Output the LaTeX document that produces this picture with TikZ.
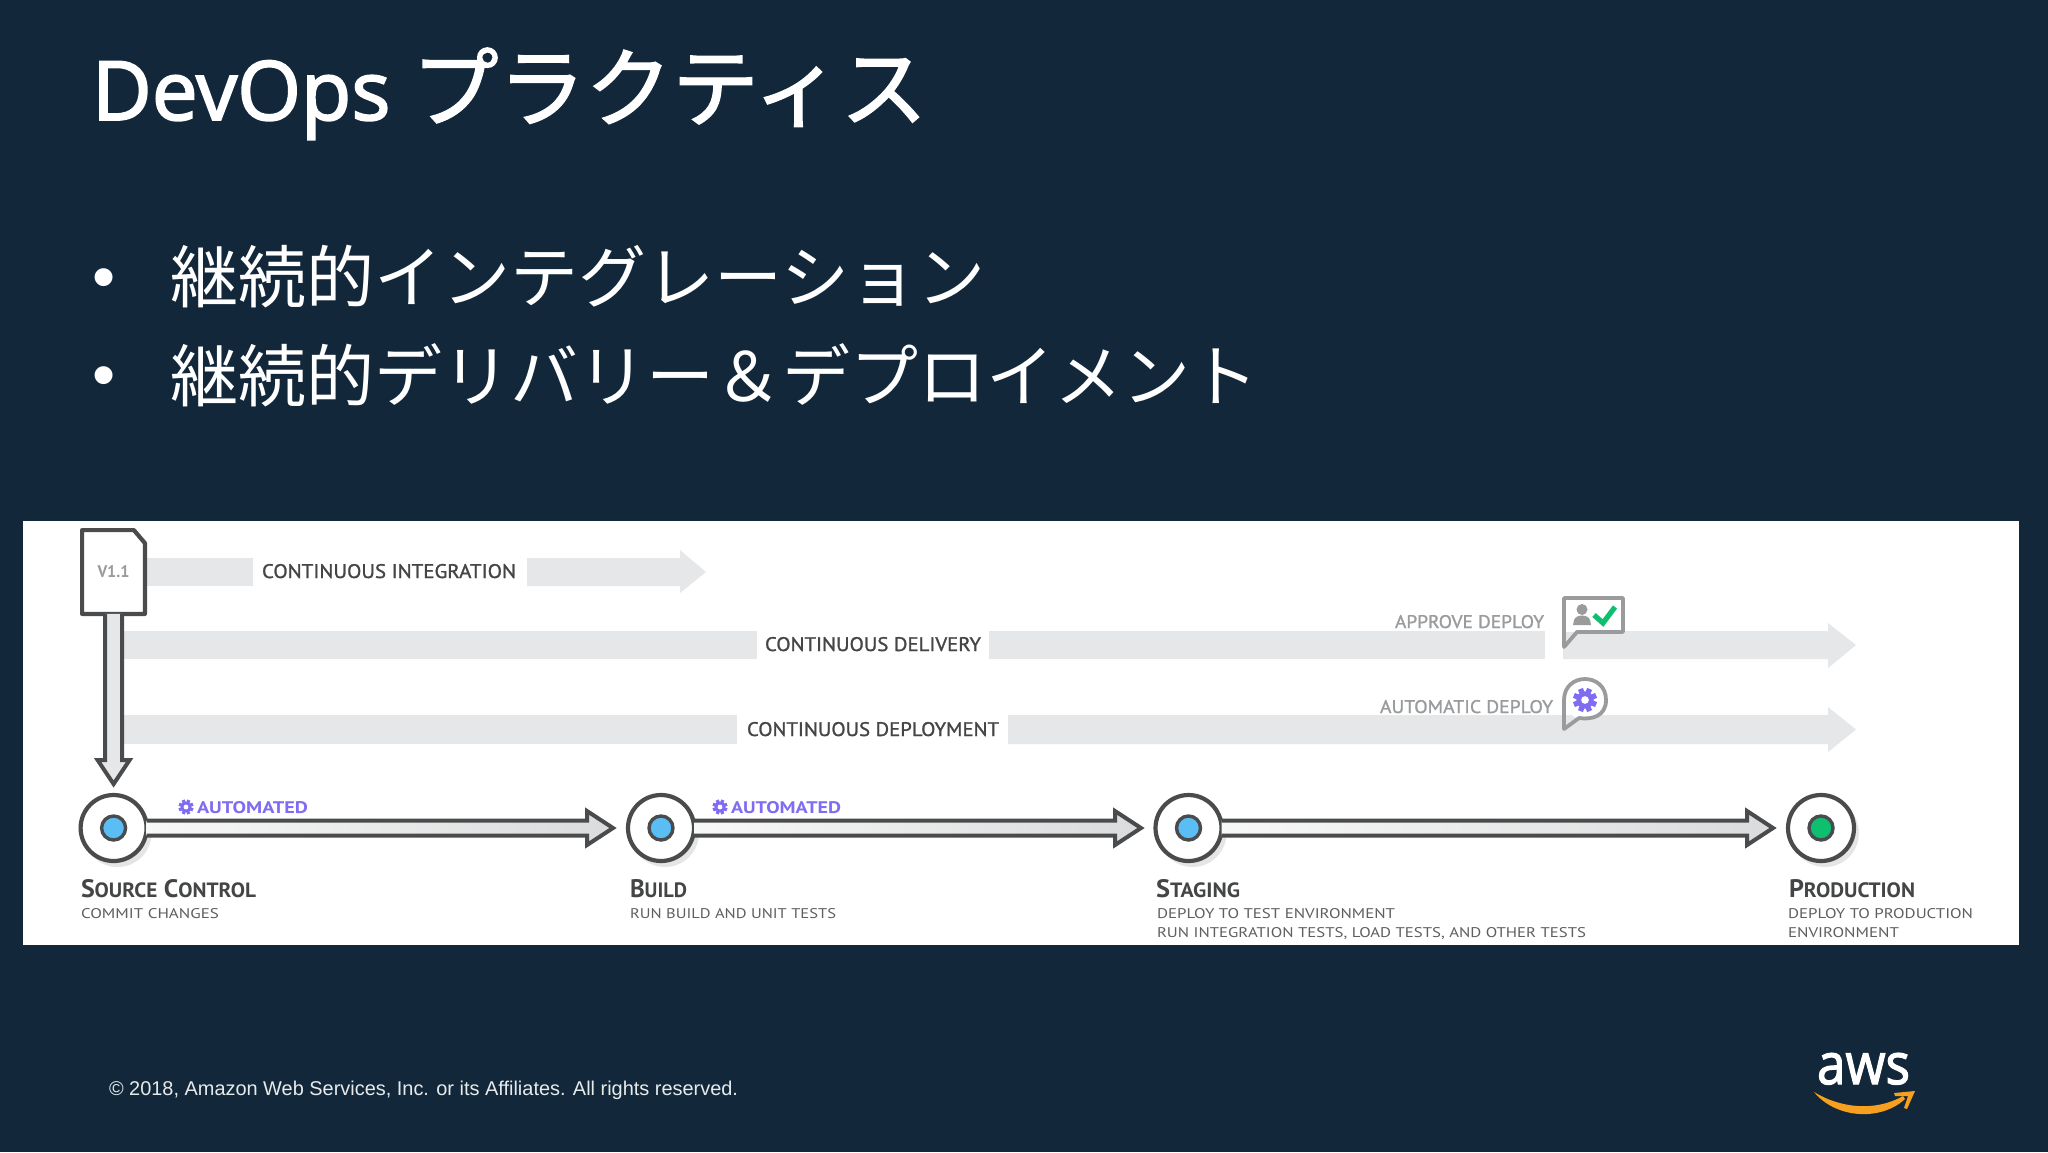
\documentclass[tikz,border=0pt]{standalone}
\usepackage{graphicx}
\usepackage{fontspec}
\setmainfont{PT Sans}
\newfontfamily\medf[FakeBold=1.2]{PT Sans}
\newfontfamily\cjkf{Noto Sans CJK JP}
\newfontfamily\cjkb[FakeBold=1.6]{Noto Sans CJK JP}
\newfontfamily\titlef[FakeBold=2.2]{Open Sans}
\newfontfamily\footf{Liberation Sans}
\usetikzlibrary{calc}
\definecolor{bgc}{HTML}{12283A}
\definecolor{barc}{HTML}{E6E7E8}
\definecolor{inkc}{HTML}{4A4B4C}
\definecolor{txtc}{HTML}{444546}
\definecolor{subc}{HTML}{5E5F60}
\definecolor{grayc}{HTML}{9A9B9C}
\definecolor{purc}{HTML}{7F6CF2}
\definecolor{bluec}{HTML}{5ABEF5}
\definecolor{greenc}{HTML}{0FBF70}
\definecolor{orc}{HTML}{F79F1E}
\newdimen\pxu \pxu=0.5pt
\newcommand\fitbox[3]{\resizebox{#1\pxu}{#2\pxu}{#3}}
\newcommand\smc[1]{{\fontsize{8.2}{8.2}\selectfont #1}}
\tikzset{
  x=0.5pt,y=-0.5pt,
  lbl/.style={inner sep=0pt,outer sep=0pt,anchor=base west},
  stagecirc/.style={circle,draw=inkc,fill=white,line width=2.1pt,minimum size=66\pxu,inner sep=0pt,outer sep=0pt},
  stagecore/.style={circle,draw=inkc,line width=1.7pt,minimum size=24\pxu,inner sep=0pt},
  blockarrow/.style={draw=inkc,line width=2pt,line join=miter,left color=white!70!barc,right color=barc!95!black},
  gearpic/.pic={
    \fill[purc] (0,0) circle[radius=#1*0.72];
    \foreach \a in {0,45,...,315}{\draw[purc,line width=#1*0.22] (0,0) -- (\a+22.5:#1);}
    \fill[white] (0,0) circle[radius=#1*0.32];
  },
  bubble/.style={draw=grayc,line width=1.9pt,line join=round}
}
\newcommand\harrow[2]{%
  \draw[blockarrow] ($(#1.east)+(0,-7.5)$) -- ($(#2)+(-26,-7.5)$) -- ($(#2)+(-26,-17)$) -- (#2) -- ($(#2)+(-26,17)$) -- ($(#2)+(-26,7.5)$) -- ($(#1.east)+(0,7.5)$);}
\begin{document}
\begin{tikzpicture}
\useasboundingbox (0,0) rectangle (2048,1152);
\fill[bgc] (0,0) rectangle (2048,1152);
% heading and bullets
\node[lbl,text=white] (title) at (92,120) {\titlef\fontsize{41}{41}\selectfont DevOps \cjkb\fontsize{43.4}{44}\selectfont プラクティス};
\node[inner sep=0pt,text=white] (b1) at (104.5,284) {\footf\fontsize{33}{33}\selectfont •};
\node[inner sep=0pt,text=white] (b2) at (104.5,382) {\footf\fontsize{33}{33}\selectfont •};
\node[inner sep=0pt,anchor=west,text=white] (t1) at (170,277) {\cjkf\fontsize{34}{34}\selectfont 継続的インテグレーション};
\node[inner sep=0pt,anchor=west,text=white] (t2) at (170,375) {\cjkf\fontsize{34}{34}\selectfont 継続的デリバリー＆デプロイメント};
% panel
\fill[white] (23,521) rectangle (2019,945);
% grey lanes
\fill[barc] (145,558) rectangle (253,586);
\fill[barc] (527,558) -- (680,558) -- (680,550) -- (706,572) -- (680,593) -- (680,586) -- (527,586) -- cycle;
\fill[barc] (123,631) rectangle (757,659);
\fill[barc] (989,631) rectangle (1545,659);
\fill[barc] (1563,631) -- (1828,631) -- (1828,623) -- (1856,645) -- (1828,668) -- (1828,659) -- (1563,659) -- cycle;
\fill[barc] (123,715) rectangle (737,744);
\fill[barc] (1008,715) -- (1828,715) -- (1828,707) -- (1856,729.5) -- (1828,752) -- (1828,744) -- (1008,744) -- cycle;
\node[lbl,text=txtc] (ci) at (262,578) {\medf\fitbox{254}{14}{CONTINUOUS INTEGRATION}};
\node[lbl,text=txtc] (cd) at (765,651) {\medf\fitbox{216}{14}{CONTINUOUS DELIVERY}};
\node[lbl,text=txtc] (cdp) at (747,736) {\medf\fitbox{252}{14}{CONTINUOUS DEPLOYMENT}};
\node[lbl,text=grayc] (appr) at (1395,628) {\medf\fitbox{149}{13}{APPROVE DEPLOY}};
\node[lbl,text=grayc] (auto) at (1380,713) {\medf\fitbox{173}{13}{AUTOMATIC DEPLOY}};
% approve bubble
\fill[white] (1563,598) rectangle (1623,632);
\draw[bubble] (1577,632) -- (1623,632) -- (1623,598) -- (1564,598) -- (1564,647) -- cycle;
\fill[grayc] (1582,609.5) circle[radius=5.5];
\fill[grayc] (1573,625) -- (1574,620) .. controls (1576,614) and (1588,614) .. (1590,620) -- (1591,625) -- cycle;
\draw[greenc,line width=2.6pt] (1594,615) -- (1603,623) -- (1615,607);
% automatic bubble
\fill[white] (1585,700) circle[radius=20];
\draw[bubble] (1564,729) -- (1564,700) .. controls (1564,672) and (1606,672) .. (1606,700) .. controls (1606,716) and (1592,720) .. (1579,718) -- cycle;
\pic at (1585,700) {gearpic=12};
% source file
\node[inner sep=0pt,minimum width=62\pxu,minimum height=83\pxu] (file) at (113.5,572) {\textcolor{grayc}{\textbf{\fitbox{32}{12}{V1.1}}}};
\draw[inkc,line width=2.1pt,line join=round] (file.north west) -- ($(file.north east)+(-11,0)$) -- ($(file.north east)+(0,13)$) -- (file.south east) -- (file.south west) -- cycle;
% shadows
\foreach \cx in {113.6,661,1188.5,1821}{\fill[black!10] (\cx+4,828+5) circle[radius=34];}
% stages
\node[stagecirc] (src) at (113.6,828) {};
\node[stagecirc] (bld) at (661,828) {};
\node[stagecirc] (stg) at (1188.5,828) {};
\node[stagecirc] (prd) at (1821,828) {};
\node[stagecore,fill=bluec] (c1) at (src) {};
\node[stagecore,fill=bluec] (c2) at (bld) {};
\node[stagecore,fill=bluec] (c3) at (stg) {};
\node[stagecore,fill=greenc] (c4) at (prd) {};
% connectors
\coordinate (v) at (113.6,784);
\draw[draw=inkc,line width=2pt,fill=barc,line join=miter] ($(file.south)+(-8.5,0)$) -- ($(v)+(-8.5,-24)$) -- ($(v)+(-16,-24)$) -- (v) -- ($(v)+(16,-24)$) -- ($(v)+(8.5,-24)$) -- ($(file.south)+(8.5,0)$);
\coordinate (a1) at (613,828);
\coordinate (a2) at (1141,828);
\coordinate (a3) at (1773,828);
\harrow{src}{a1}
\harrow{bld}{a2}
\harrow{stg}{a3}
% automated
\pic at (186,807) {gearpic=7.5};
\node[lbl,text=purc] (au1) at (197,813) {\textbf{\fitbox{111}{12}{AUTOMATED}}};
\pic at (720,807) {gearpic=7.5};
\node[lbl,text=purc] (au2) at (731,813) {\textbf{\fitbox{110}{12}{AUTOMATED}}};
% stage titles
\node[lbl,text=txtc] (n1) at (81,897) {\fitbox{175}{18}{\textbf{S\smc{OURCE} C\smc{ONTROL}}}};
\node[lbl,text=txtc] (n2) at (630,897) {\fitbox{57}{18}{\textbf{B\smc{UILD}}}};
\node[lbl,text=txtc] (n3) at (1156,897) {\fitbox{84}{18}{\textbf{S\smc{TAGING}}}};
\node[lbl,text=txtc] (n4) at (1789,897) {\fitbox{126}{18}{\textbf{P\smc{RODUCTION}}}};
\node[lbl,text=subc] (s1) at (81,918) {\fitbox{138}{10}{COMMIT CHANGES}};
\node[lbl,text=subc] (s2) at (630,918) {\fitbox{206}{10}{RUN BUILD AND UNIT TESTS}};
\node[lbl,text=subc] (s3) at (1157,918) {\fitbox{238}{10}{DEPLOY TO TEST ENVIRONMENT}};
\node[lbl,text=subc] (s3b) at (1157,937) {\fitbox{429}{10}{RUN INTEGRATION TESTS, LOAD TESTS, AND OTHER TESTS}};
\node[lbl,text=subc] (s4) at (1788,918) {\fitbox{185}{10}{DEPLOY TO PRODUCTION}};
\node[lbl,text=subc] (s4b) at (1788,937) {\fitbox{111}{10}{ENVIRONMENT}};
% footer
\node[lbl,text=white!90!bgc] (foot) at (109,1095) {\footf\resizebox{629\pxu}{!}{© 2018, Amazon Web Services, Inc. or its Affiliates. All rights reserved.}};
% logo
\node[lbl,text=white] (aws) at (1817,1084) {\titlef\fitbox{93}{31}{aws}};
\fill[orc] (1814,1092) .. controls (1840,1108) and (1875,1112) .. (1903,1096) -- (1905,1099) .. controls (1880,1122) and (1835,1118) .. cycle;
\fill[orc,line join=round] (1894,1093) -- (1915,1091) -- (1907,1109) -- (1904,1108) -- (1908,1096) -- (1895,1096) -- cycle;
\end{tikzpicture}
\end{document}
